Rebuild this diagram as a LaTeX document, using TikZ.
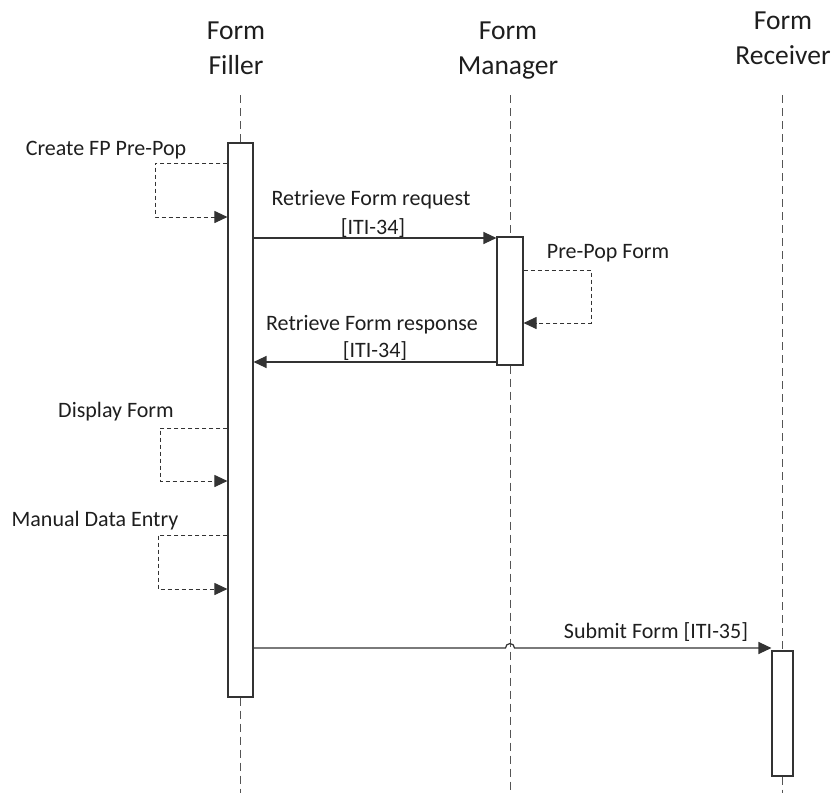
\documentclass[tikz,border=0pt]{standalone}
\usepackage{fontspec}
\setmainfont{Carlito}
\usetikzlibrary{arrows.meta}
\definecolor{ink}{HTML}{1E1E1E}
\definecolor{linec}{HTML}{333333}
\definecolor{lifec}{HTML}{555555}
\tikzset{
  act/.style={draw=linec, fill=white, line width=1.1pt, inner sep=0pt},
  life/.style={draw=lifec, line width=1pt, dash pattern=on 8pt off 5pt},
  msg/.style={draw=linec, line width=1.2pt, -{Triangle[length=13pt,width=12pt]}},
  selfmsg/.style={draw=linec, line width=1pt, dash pattern=on 4pt off 3pt, -{Triangle[length=13pt,width=12pt]}},
  head/.style={text=ink, font=\fontsize{27.5}{35}\selectfont, align=center, inner sep=0pt},
  lbl/.style={text=ink, font=\fontsize{22}{26}\selectfont, inner sep=0pt}
}
\begin{document}
\begin{tikzpicture}[x=1pt,y=1pt]
\useasboundingbox (0,0) rectangle (833,-793);
% headers
\node[head] (hff) at (236,-48) {Form\\Filler};
\node[head] (hfm) at (508,-51) {Form\\Manager};
\node[head] (hfr) at (783,-38) {Form\\Receiver};
% activation boxes
\node[act, minimum width=25pt, minimum height=554pt] (ffbox) at (240.5,-420) {};
\node[act, minimum width=26pt, minimum height=128pt] (fmbox) at (510,-301) {};
\node[act, minimum width=21pt, minimum height=125pt] (frbox) at (782.5,-713.5) {};
% lifeline ends
\coordinate (fftop) at (240.5,-95);
\coordinate (ffbot) at (240.5,-793);
\coordinate (fmtop) at (510,-95);
\coordinate (fmbot) at (510,-793);
\coordinate (frtop) at (782.5,-95);
\coordinate (frbot) at (782.5,-793);
\draw[life] (fftop) -- (ffbox.north);
\draw[life] (ffbox.south) -- (ffbot);
\draw[life] (fmtop) -- (fmbox.north);
\draw[life] (fmbox.south) -- (fmbot);
\draw[life] (frtop) -- (frbox.north);
\draw[life] (frbox.south) -- (frbot);
% Create FP Pre-Pop
\node[lbl] (l1) at (106,-150) {Create FP Pre-Pop};
\draw[selfmsg] (ffbox.west |- 0,-163) -- (155,-163) -- (155,-217) -- (ffbox.west |- 0,-217);
% Retrieve Form request
\node[lbl] (l2) at (371,-200) {Retrieve Form request};
\node[lbl] (l2b) at (373,-228) {[ITI-34]};
\draw[msg] (ffbox.east |- 0,-238) -- (fmbox.west |- 0,-238);
% Pre-Pop Form
\node[lbl] (l3) at (608,-253) {Pre-Pop Form};
\draw[selfmsg] (fmbox.east |- 0,-270) -- (591,-270) -- (591,-323) -- (fmbox.east |- 0,-323);
% Retrieve Form response
\node[lbl] (l4) at (372,-325) {Retrieve Form response};
\node[lbl] (l4b) at (375,-351) {[ITI-34]};
\draw[msg] (fmbox.west |- 0,-362) -- (ffbox.east |- 0,-362);
% Display Form
\node[lbl] (l5) at (116,-412) {Display Form};
\draw[selfmsg] (ffbox.west |- 0,-428) -- (160,-428) -- (160,-481) -- (ffbox.west |- 0,-481);
% Manual Data Entry
\node[lbl] (l6) at (95,-521) {Manual Data Entry};
\draw[selfmsg] (ffbox.west |- 0,-535) -- (158,-535) -- (158,-589) -- (ffbox.west |- 0,-589);
% Submit Form
\node[lbl] (l7) at (656,-632) {Submit Form [ITI-35]};
\draw[msg] (ffbox.east |- 0,-648) -- (505.5,-648) arc[start angle=180, end angle=0, radius=4.5] -- (frbox.west |- 0,-648);
\end{tikzpicture}
\end{document}
